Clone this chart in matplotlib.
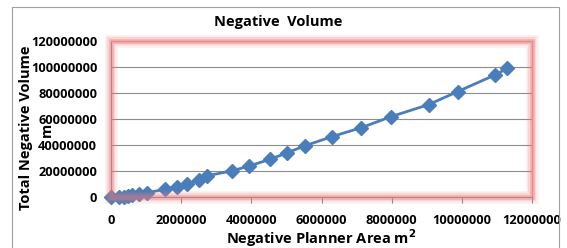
import matplotlib.pyplot as plt
from matplotlib.patches import Rectangle

# values
area = [0, 0.24e6, 0.37e6, 0.49e6, 0.61e6, 0.81e6, 1.04e6, 1.54e6, 1.89e6,
        2.18e6, 2.52e6, 2.75e6, 3.44e6, 3.94e6, 4.53e6, 5.03e6, 5.54e6,
        6.30e6, 7.14e6, 7.98e6, 9.05e6, 9.88e6, 10.94e6, 11.30e6]
volume = [0, 0, 0.5e6, 1.0e6, 1.8e6, 2.6e6, 3.6e6, 6.1e6, 8.2e6,
          10.5e6, 13.5e6, 16.6e6, 20.2e6, 24.0e6, 29.1e6, 34.2e6, 39.6e6,
          46.5e6, 53.4e6, 61.8e6, 71.0e6, 81.0e6, 93.7e6, 98.8e6]
xticks = [0, 2000000, 4000000, 6000000, 8000000, 10000000, 12000000]
yticks = [0, 20000000, 40000000, 60000000, 80000000, 100000000, 120000000]

plt.rcParams['font.family'] = ['Open Sans', 'DejaVu Sans']

W, H = 567, 248
fig = plt.figure(figsize=(W / 100, H / 100), dpi=100)

# outer chart frame
fig.patches.append(Rectangle((12 / W, -0.01), (559 - 12) / W, 1 - 7 / H + 0.01,
                             transform=fig.transFigure, fill=False,
                             edgecolor='#a0a0a0', linewidth=0.8))

l, r, t, b = 111, 532, 40.7, 197.3
ax = fig.add_axes([l / W, 1 - b / H, (r - l) / W, (b - t) / H])

# red glow around the plot area
for lw, a in [(9, 0.12), (6, 0.2), (3.5, 0.35)]:
    fig.patches.append(Rectangle((l / W, 1 - b / H), (r - l) / W, (b - t) / H,
                                 transform=fig.transFigure, fill=False,
                                 edgecolor='#e87878', linewidth=lw, alpha=a,
                                 zorder=0))

ax.plot(area, volume, color='#4a7ebb', linewidth=2, marker='D',
        markersize=7, markerfacecolor='#4a7ebb', markeredgecolor='#4a7ebb',
        clip_on=False, zorder=3)

ax.set_xlim(0, 12000000)
ax.set_ylim(0, 120000000)
ax.set_xticks(xticks)
ax.set_yticks(yticks)
ax.set_xticklabels([str(v) for v in xticks], fontsize=9.2, fontweight='bold')
ax.set_yticklabels([str(v) for v in yticks], fontsize=9.2, fontweight='bold')
ax.grid(axis='y', color='#8c8c8c', linewidth=0.8)
ax.set_axisbelow(True)
ax.tick_params(axis='y', length=0, pad=10)
ax.tick_params(axis='x', length=4, color='#8c8c8c', direction='out', pad=8)
for s in ['top', 'right']:
    ax.spines[s].set_color('#f0a0a0')
    ax.spines[s].set_linewidth(1)
ax.spines['left'].set_color('#8c8c8c')
ax.spines['bottom'].set_color('#8c8c8c')

fig.text(278 / W, 1 - 22 / H, 'Negative  Volume', ha='center', va='center',
         fontsize=10.5, fontweight='bold')
fig.text(321 / W, 1 - 238 / H, 'Negative Planner Area m$^\\mathbf{2}$',
         ha='center', va='center', fontsize=10.5, fontweight='bold')
fig.text(26 / W, 1 - 128 / H, 'Total Negative Volume', ha='center',
         va='center', rotation=90, fontsize=10.5, fontweight='bold')
fig.text(47 / W, 1 - 130 / H, 'm', ha='center', va='center', rotation=90,
         fontsize=10.5, fontweight='bold')

plt.savefig('out.png', dpi=100)
